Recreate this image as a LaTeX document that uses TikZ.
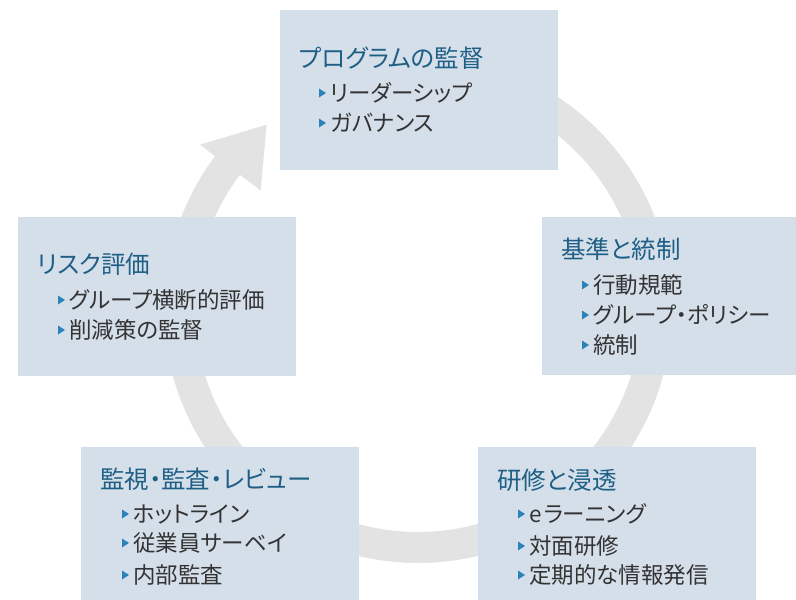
\documentclass[tikz,border=0pt]{standalone}
\usepackage{fontspec}
\setmainfont[RawFeature=+palt]{Noto Sans CJK JP}
\usetikzlibrary{calc}
\definecolor{boxc}{HTML}{D5DFEA}
\definecolor{ringc}{HTML}{E3E3E3}
\definecolor{titlec}{HTML}{1F5F86}
\definecolor{itemc}{HTML}{333333}
\definecolor{bulc}{HTML}{2B83BA}
\newcommand\myitem[4]{%
  \fill[bul] (#2,#3-4.5) -- (#2+7,#3) -- (#2,#3+4.5) -- cycle;
  \node[itm] (#1) at (#2+11,#3+8.5) {#4};}
\begin{document}
\begin{tikzpicture}[x=1pt,y=-1pt,
  box/.style={fill=boxc, draw=none, anchor=north west, inner sep=0, outer sep=0},
  ttl/.style={anchor=base west, inner sep=0, text=titlec, font=\fontsize{24.5}{24.5}\selectfont},
  itm/.style={anchor=base west, inner sep=0, text=itemc, font=\fontsize{22.5}{22.5}\selectfont},
  bul/.style={fill=bulc}]
\useasboundingbox (0,0) rectangle (796,600);
\coordinate (C) at (418,309);
% ring with arrow
\fill[ringc] ($(C)+(90:254pt)$) arc[start angle=90, end angle=-217, radius=254pt]
  -- ($(C)+(143:273pt)$) -- ($(C)+(129.4:238.5pt)$) -- ($(C)+(143:197pt)$)
  -- ($(C)+(143:223pt)$) arc[start angle=-217, end angle=90, radius=223pt] -- cycle;
% boxes
\node[box, minimum width=278pt, minimum height=160pt] (b1) at (280,10) {};
\node[box, minimum width=254pt, minimum height=158pt] (b2) at (542,217) {};
\node[box, minimum width=278pt, minimum height=153pt] (b3) at (478,447) {};
\node[box, minimum width=278pt, minimum height=153pt] (b4) at (81,447) {};
\node[box, minimum width=278pt, minimum height=159pt] (b5) at (18,217) {};
% top
\node[ttl] (t1) at (299,58+9.3) {プログラムの監督};
\myitem{i11}{319}{93}{リーダーシップ}
\myitem{i12}{319}{123}{ガバナンス}
% right
\node[ttl] (t2) at (561,249+9.3) {基準と統制};
\myitem{i21}{582}{285}{行動規範}
\myitem{i22}{582}{315}{グループ・ポリシー}
\myitem{i23}{582}{345}{統制}
% bottom right
\node[ttl] (t3) at (497,480+9.3) {研修と浸透};
\myitem{i31}{518}{514}{e\kern2ptラーニング}
\myitem{i32}{518}{546}{対面研修}
\myitem{i33}{518}{575}{定期的な情報発信}
% bottom left
\node[ttl] (t4) at (100,479+9.3) {監視・監査・レビュー};
\myitem{i41}{122}{514}{ホットライン}
\myitem{i42}{122}{543}{従業員サーベイ}
\myitem{i43}{122}{575}{内部監査}
% left
\node[ttl] (t5) at (37,264+9.3) {リスク評価};
\myitem{i51}{58}{300}{グループ横断的評価}
\myitem{i52}{58}{330}{削減策の監督}
\end{tikzpicture}
\end{document}
